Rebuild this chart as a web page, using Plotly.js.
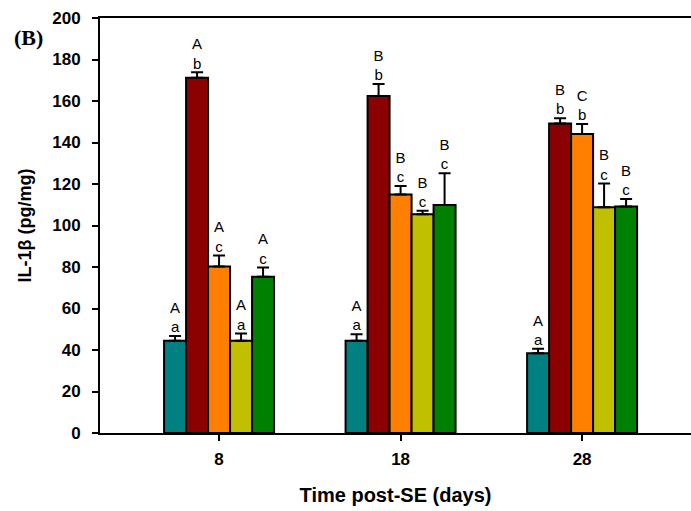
<!DOCTYPE html>
<html>
<head>
<meta charset="utf-8">
<script src="https://cdn.plot.ly/plotly-3.0.1.min.js"></script>
<style>html,body{margin:0;padding:0;background:#fff;}#chart{width:691px;height:511px;}</style>
</head>
<body>
<div id="chart"></div>
<script>
// Time points (days post-SE)
const days = [8, 18, 28];

// Series names (groups) and colours
const seriesNames = ["Control", "SE", "Treatment 1", "Treatment 2", "Treatment 3"];
const seriesColors = ["#008080", "#8B0000", "#FF8000", "#C0C000", "#008000"];

// IL-1β means (pg/mg)
const meanControl = [44.5, 44.5, 38.4];
const meanSE      = [171.2, 162.4, 149.2];
const meanT1      = [80.2, 115.0, 144.1];
const meanT2      = [44.5, 105.4, 108.8];
const meanT3      = [75.3, 109.9, 109.1];

// Upper error (SEM)
const errControl = [2.2, 3.1, 2.2];
const errSE      = [2.6, 5.8, 2.5];
const errT1      = [5.4, 4.0, 4.8];
const errT2      = [3.5, 1.7, 11.5];
const errT3      = [4.5, 15.3, 3.7];

// Significance letters (upper / lower)
const upperControl = ["A", "A", "A"];
const upperSE      = ["A", "B", "B"];
const upperT1      = ["A", "B", "C"];
const upperT2      = ["A", "B", "B"];
const upperT3      = ["A", "B", "B"];
const lowerControl = ["a", "a", "a"];
const lowerSE      = ["b", "b", "b"];
const lowerT1      = ["c", "c", "b"];
const lowerT2      = ["a", "c", "c"];
const lowerT3      = ["c", "c", "c"];

const yTickVals = [0, 20, 40, 60, 80, 100, 120, 140, 160, 180, 200];

const means = [meanControl, meanSE, meanT1, meanT2, meanT3];
const errs = [errControl, errSE, errT1, errT2, errT3];
const uppers = [upperControl, upperSE, upperT1, upperT2, upperT3];
const lowers = [lowerControl, lowerSE, lowerT1, lowerT2, lowerT3];

const traces = [];
means.forEach((m, i) => {
  traces.push({
    type: "bar",
    name: seriesNames[i],
    x: days,
    y: m,
    marker: {color: seriesColors[i], line: {color: "#000", width: 2}},
    error_y: {type: "data", symmetric: false, array: errs[i], arrayminus: m.map(() => 0),
              color: "#000", thickness: 2, width: 6},
    showlegend: false,
    hoverinfo: "skip"
  });
});
means.forEach((m, i) => {
  traces.push({
    type: "scatter",
    mode: "text",
    x: days,
    y: m.map((v, j) => v + errs[i][j]),
    text: uppers[i].map((u, j) => u + "<br>" + lowers[i][j]),
    textposition: "top center",
    textfont: {family: "Liberation Sans, Arial, sans-serif", size: 15, color: "#000"},
    showlegend: false,
    hoverinfo: "skip",
    cliponaxis: false
  });
});

const layout = {
  width: 691,
  height: 511,
  margin: {l: 100, r: 0, t: 18, b: 78},
  paper_bgcolor: "#fff",
  plot_bgcolor: "#fff",
  barmode: "group",
  bargap: 0.394,
  bargroupgap: 0,
  scattermode: "group",
  scattergap: 0.394,
  font: {family: "Liberation Sans, Arial, sans-serif", color: "#000"},
  xaxis: {
    range: [1.44, 34.0],
    tickvals: days,
    ticktext: days.map(String),
    ticks: "outside",
    ticklen: 6,
    tickwidth: 2,
    tickcolor: "#000",
    showline: true,
    linewidth: 2,
    linecolor: "#000",
    mirror: true,
    showgrid: false,
    zeroline: false,
    ticklabelstandoff: 4,
    tickfont: {size: 17, weight: "bold", family: "Liberation Sans, Arial, sans-serif"},
    title: {text: "Time post-SE (days)", font: {size: 20, weight: "bold", family: "Liberation Sans, Arial, sans-serif"}, standoff: 20}
  },
  yaxis: {
    range: [0, 200],
    tickvals: yTickVals,
    ticks: "outside",
    ticklen: 6,
    tickwidth: 2,
    tickcolor: "#000",
    showline: true,
    linewidth: 2,
    linecolor: "#000",
    showgrid: false,
    zeroline: false,
    ticklabelstandoff: 8,
    tickfont: {size: 17, weight: "bold", family: "Liberation Sans, Arial, sans-serif"},
    title: {text: "IL-1β (pg/mg)", font: {size: 18, weight: "bold", family: "Liberation Sans, Arial, sans-serif"}, standoff: 16}
  },
  annotations: [{
    text: "(B)",
    xref: "paper", yref: "paper",
    x: -0.149, y: 0.954,
    xanchor: "left", yanchor: "middle",
    showarrow: false,
    font: {family: "Liberation Serif, Times New Roman, serif", size: 22, weight: "bold", color: "#000"}
  }]
};

Plotly.newPlot("chart", traces, layout, {displayModeBar: false, staticPlot: true});
</script>
</body>
</html>
